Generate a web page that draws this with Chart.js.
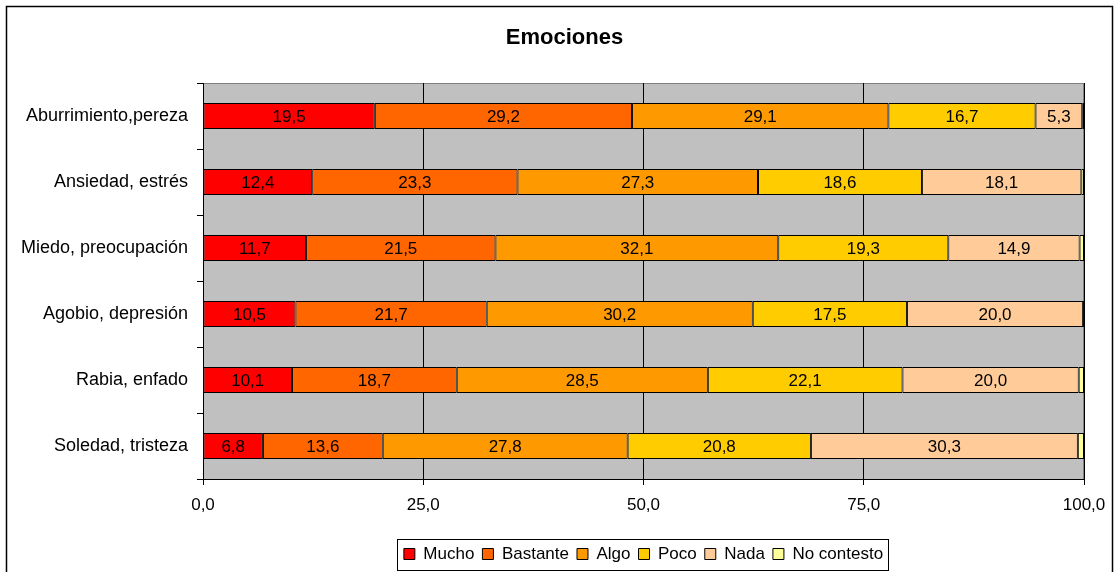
<!DOCTYPE html>
<html>
<head>
<meta charset="utf-8">
<script src="https://cdn.jsdelivr.net/npm/chart.js@4"></script>
<style>
  body { margin: 0; background: #fff; }
</style>
</head>
<body>
<canvas id="chart" width="1114" height="572"></canvas>
<script>
const categories = ["Aburrimiento,pereza", "Ansiedad, estrés", "Miedo, preocupación", "Agobio, depresión", "Rabia, enfado", "Soledad, tristeza"];
const mucho = [19.5, 12.4, 11.7, 10.5, 10.1, 6.8];
const bastante = [29.2, 23.3, 21.5, 21.7, 18.7, 13.6];
const algo = [29.1, 27.3, 32.1, 30.2, 28.5, 27.8];
const poco = [16.7, 18.6, 19.3, 17.5, 22.1, 20.8];
const nada = [5.3, 18.1, 14.9, 20.0, 20.0, 30.3];
const noContesto = [0.2, 0.3, 0.5, 0.1, 0.6, 0.7];
const xTicks = [0, 25, 50, 75, 100];

const FONT = "'Liberation Sans', Arial, sans-serif";
const fmt = v => v.toFixed(1).replace(".", ",");

const series = [
  { label: "Mucho", data: mucho, color: "#FF0000", showLabel: true },
  { label: "Bastante", data: bastante, color: "#FF6600", showLabel: true },
  { label: "Algo", data: algo, color: "#FF9900", showLabel: true },
  { label: "Poco", data: poco, color: "#FFCC00", showLabel: true },
  { label: "Nada", data: nada, color: "#FFCC99", showLabel: true },
  { label: "No contesto", data: noContesto, color: "#FFFF99", showLabel: false },
];

// gray plot background, value labels, frame around the chart and legend box
const decor = {
  id: "decor",
  afterLayout(chart) {
    // title is centred on the outer frame, not on the canvas minus padding
    const t = chart.titleBlock;
    t.left = 2 * 564.5 - t.right;
  },
  beforeDraw(chart) {
    const { ctx, chartArea: a } = chart;
    ctx.save();
    ctx.fillStyle = "#C0C0C0";
    ctx.fillRect(a.left, a.top, a.right - a.left, a.bottom - a.top);
    ctx.strokeStyle = "#808080";
    ctx.lineWidth = 1;
    ctx.strokeRect(a.left + 0.5, a.top + 0.5, a.right - a.left - 1, a.bottom - a.top);
    ctx.restore();
  },
  afterDatasetsDraw(chart) {
    const ctx = chart.ctx;
    ctx.save();
    ctx.font = "17px " + FONT;
    ctx.fillStyle = "#000";
    ctx.textAlign = "center";
    ctx.textBaseline = "middle";
    chart.data.datasets.forEach((ds, i) => {
      if (!series[i].showLabel) return;
      chart.getDatasetMeta(i).data.forEach((bar, j) => {
        const x = (bar.x + bar.base) / 2;
        ctx.fillText(fmt(ds.data[j]), x, bar.y + 1);
      });
    });
    ctx.restore();
  },
  afterDraw(chart) {
    const ctx = chart.ctx;
    ctx.save();
    ctx.strokeStyle = "#000";
    ctx.lineWidth = 1.5;
    ctx.strokeRect(6.5, 6.5, 1106, 700);
    const hb = chart.legend.legendHitBoxes;
    if (hb && hb.length) {
      const l = Math.min(...hb.map(b => b.left)) - 7;
      const r = Math.max(...hb.map(b => b.left + b.width)) + 5;
      const t = hb[0].top - 6.5;
      const b = hb[0].top + hb[0].height + 7.5;
      ctx.lineWidth = 1;
      ctx.strokeStyle = "#000";
      ctx.strokeRect(Math.round(l) + 0.5, Math.round(t) + 0.5, Math.round(r - l), Math.round(b - t));
    }
    ctx.restore();
  },
};

new Chart(document.getElementById("chart"), {
  type: "bar",
  data: {
    labels: categories,
    datasets: series.map(s => ({
      label: s.label,
      data: s.data,
      backgroundColor: s.color,
      borderColor: "#000",
      borderWidth: 1,
      borderSkipped: false,
      categoryPercentage: 1,
      barPercentage: 0.392,
    })),
  },
  options: {
    indexAxis: "y",
    responsive: false,
    animation: false,
    layout: { padding: { top: 0, left: 0, right: 30, bottom: -0.5 } },
    scales: {
      x: {
        stacked: true,
        min: 0,
        max: 100,
        afterBuildTicks: axis => { axis.ticks = xTicks.map(v => ({ value: v })); },
        afterFit: axis => { axis.height = 58.5; axis.paddingLeft = 0; axis.paddingRight = 0; },
        ticks: {
          callback: v => fmt(v),
          font: { family: FONT, size: 17 },
          color: "#000",
          padding: 10,
          maxRotation: 0,
        },
        grid: { color: "#000", lineWidth: 1, tickLength: 6, tickColor: "#000" },
        border: { display: true, color: "#000", width: 1 },
      },
      y: {
        stacked: true,
        afterFit: axis => { axis.width = 203; },
        ticks: {
          font: { family: FONT, size: 18 },
          color: "#000",
          padding: 9,
        },
        grid: { offset: true, drawOnChartArea: false, tickLength: 6, color: "#000", tickColor: "#000" },
        border: { display: true, color: "#000", width: 1 },
      },
    },
    plugins: {
      title: {
        display: true,
        text: "Emociones",
        color: "#000",
        font: { family: FONT, size: 22, weight: "bold" },
        padding: { top: 24.3, bottom: 32.3 },
      },
      legend: {
        position: "bottom",
        fullSize: false,
        labels: {
          boxWidth: 11,
          boxHeight: 11,
          padding: 8,
          color: "#000",
          font: { family: FONT, size: 17 },
        },
      },
      tooltip: { enabled: false },
    },
  },
  plugins: [decor],
});
</script>
</body>
</html>
